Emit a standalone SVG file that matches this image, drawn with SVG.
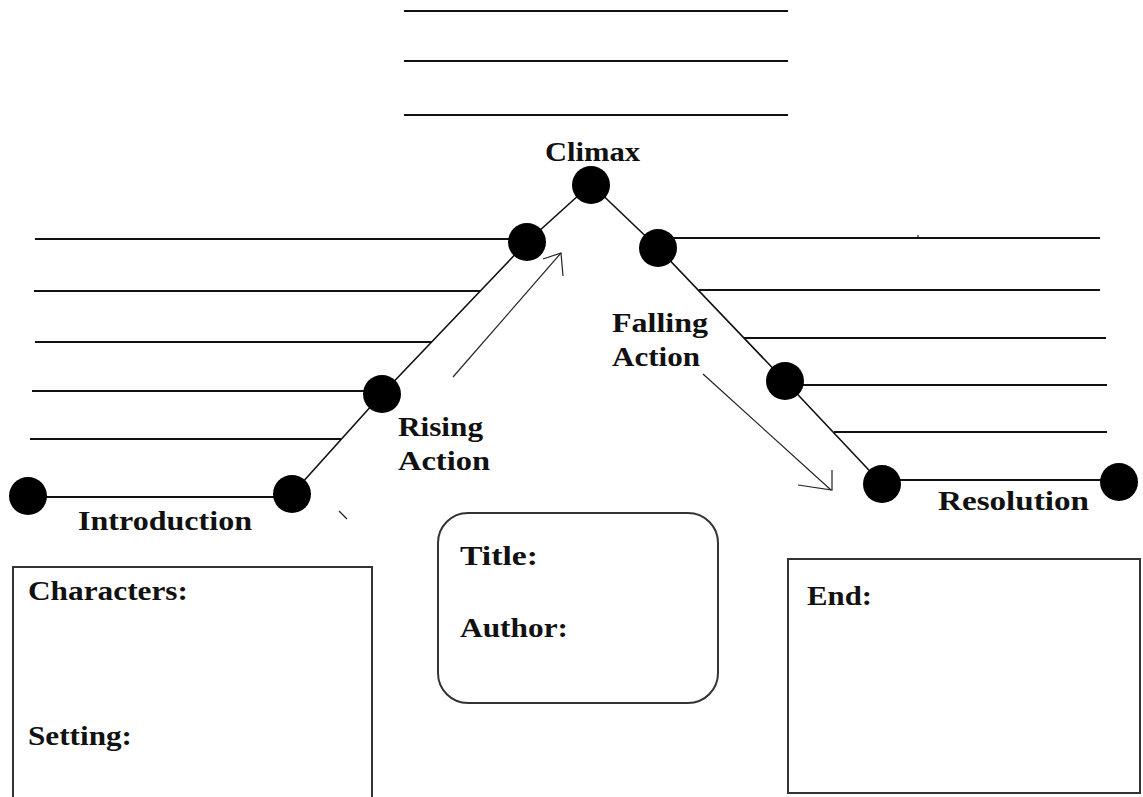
<svg xmlns="http://www.w3.org/2000/svg" width="1143" height="797" viewBox="0 0 1143 797">
<style>
.ln{stroke:#111;stroke-width:2;fill:none}
.dg{stroke:#111;stroke-width:1.6;fill:none}
.ar{stroke:#222;stroke-width:1.2;fill:none}
.box{stroke:#333;stroke-width:2;fill:#fff}
.dot{fill:#000}
.t{font-family:"Liberation Serif","Times New Roman",serif;font-weight:bold;font-size:28px;fill:#111}
</style>
<rect width="1143" height="797" fill="#fff"/>
<g id="connectors">
  <line class="ln" x1="404" y1="11" x2="788" y2="11"/>
  <line class="ln" x1="404" y1="61" x2="788" y2="61"/>
  <line class="ln" x1="404" y1="115" x2="788" y2="115"/>
  <line class="ln" x1="35" y1="239" x2="515" y2="239"/>
  <line class="ln" x1="34" y1="291" x2="480" y2="291"/>
  <line class="ln" x1="35" y1="342" x2="432" y2="342"/>
  <line class="ln" x1="32" y1="391" x2="375" y2="391"/>
  <line class="ln" x1="30" y1="439" x2="341" y2="439"/>
  <line class="ln" x1="28" y1="497" x2="292" y2="497"/>
  <line class="ln" x1="665" y1="238" x2="1100" y2="238"/>
  <line class="ln" x1="699" y1="290" x2="1100" y2="290"/>
  <line class="ln" x1="744" y1="338" x2="1106" y2="338"/>
  <line class="ln" x1="790" y1="385" x2="1107" y2="385"/>
  <line class="ln" x1="834" y1="432" x2="1107" y2="432"/>
  <line class="ln" x1="882" y1="480" x2="1120" y2="480"/>
  <polyline class="dg" points="292,494 382,394 527,242 591,184 658,248 785,381 882,484"/>
  <line class="ar" x1="453" y1="377" x2="561" y2="253"/>
  <polyline class="ar" points="543,259 561,253 563,276"/>
  <line class="ar" x1="703" y1="374" x2="831" y2="490"/>
  <polyline class="ar" points="832,470 832,490 798,485"/>
  <line class="ar" x1="339" y1="511" x2="347" y2="519"/>
  <circle cx="918" cy="236" r="1" fill="#555"/>
</g>
<g id="dot-intro-start"><circle class="dot" cx="28" cy="496" r="19"/></g>
<g id="dot-intro-end"><circle class="dot" cx="292" cy="494" r="19"/></g>
<g id="dot-rising-1"><circle class="dot" cx="382" cy="394" r="19"/></g>
<g id="dot-rising-2"><circle class="dot" cx="527" cy="242" r="19"/></g>
<g id="dot-climax"><circle class="dot" cx="591" cy="185" r="19"/></g>
<g id="dot-falling-1"><circle class="dot" cx="658" cy="248" r="19"/></g>
<g id="dot-falling-2"><circle class="dot" cx="785" cy="381" r="19"/></g>
<g id="dot-resolution-start"><circle class="dot" cx="882" cy="484" r="19"/></g>
<g id="dot-resolution-end"><circle class="dot" cx="1119" cy="482" r="19"/></g>
<g id="label-climax"><text class="t" x="545" y="161" textLength="95" lengthAdjust="spacingAndGlyphs">Climax</text></g>
<g id="label-rising"><text class="t" x="398" y="436" textLength="85" lengthAdjust="spacingAndGlyphs">Rising</text><text class="t" x="398" y="470" textLength="92" lengthAdjust="spacingAndGlyphs">Action</text></g>
<g id="label-falling"><text class="t" x="612" y="332" textLength="96" lengthAdjust="spacingAndGlyphs">Falling</text><text class="t" x="612" y="366" textLength="88" lengthAdjust="spacingAndGlyphs">Action</text></g>
<g id="label-introduction"><text class="t" x="78" y="530" textLength="174" lengthAdjust="spacingAndGlyphs">Introduction</text></g>
<g id="label-resolution"><text class="t" x="938" y="510" textLength="151" lengthAdjust="spacingAndGlyphs">Resolution</text></g>
<g id="box-characters">
  <rect class="box" x="13" y="567" width="359" height="240"/>
  <text class="t" x="28" y="600" textLength="160" lengthAdjust="spacingAndGlyphs">Characters:</text>
  <text class="t" x="28" y="745" textLength="104" lengthAdjust="spacingAndGlyphs">Setting:</text>
</g>
<g id="box-title">
  <rect class="box" x="438" y="513" width="280" height="190" rx="30" ry="30"/>
  <text class="t" x="460" y="565" textLength="78" lengthAdjust="spacingAndGlyphs">Title:</text>
  <text class="t" x="460" y="637" textLength="108" lengthAdjust="spacingAndGlyphs">Author:</text>
</g>
<g id="box-end">
  <rect class="box" x="788" y="559" width="352" height="234"/>
  <text class="t" x="807" y="605" textLength="65" lengthAdjust="spacingAndGlyphs">End:</text>
</g>
</svg>
